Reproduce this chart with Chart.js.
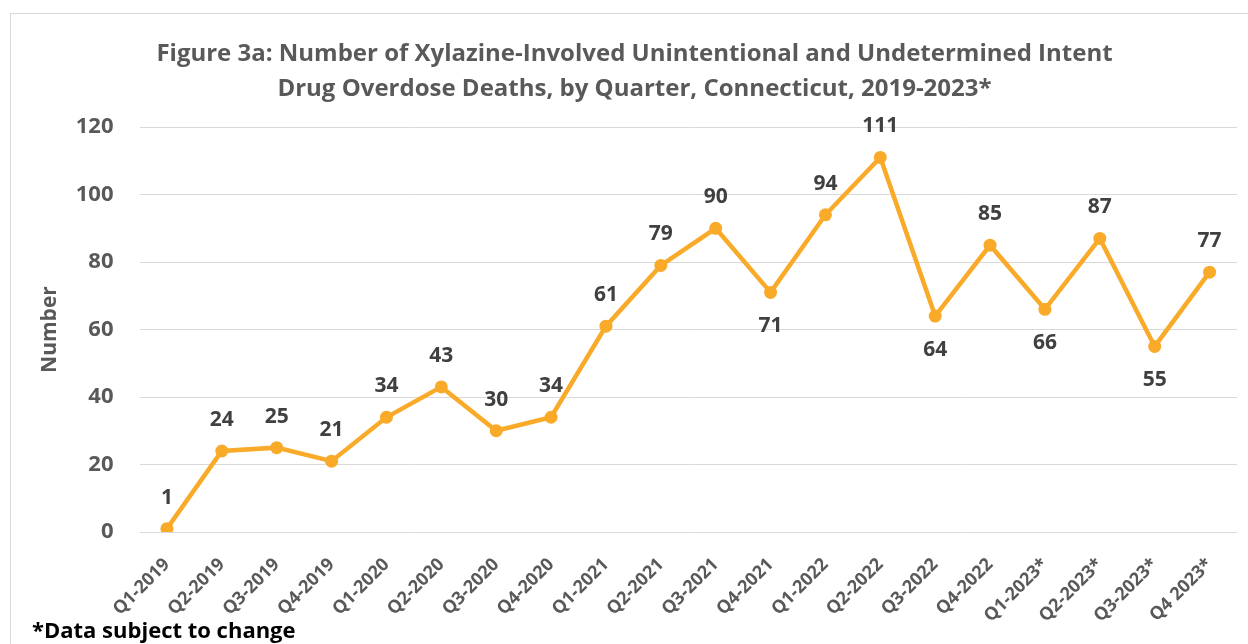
<!DOCTYPE html>
<html>
<head>
<meta charset="utf-8">
<script src="https://cdn.jsdelivr.net/npm/chart.js@4"></script>
<style>
  html, body { margin: 0; padding: 0; background: #fff; overflow: hidden; }
  #frame {
    position: absolute; left: 10px; top: 13px; width: 1400px; height: 800px;
    border: 1px solid #d9d9d9;
  }
  #wrap { position: absolute; left: 0; top: 0; width: 1248px; height: 644px; }
</style>
</head>
<body>
<div id="frame"></div>
<div id="wrap"><canvas id="chart"></canvas></div>
<script>
// quarters on the x axis
const quarters = [
  "Q1-2019", "Q2-2019", "Q3-2019", "Q4-2019",
  "Q1-2020", "Q2-2020", "Q3-2020", "Q4-2020",
  "Q1-2021", "Q2-2021", "Q3-2021", "Q4-2021",
  "Q1-2022", "Q2-2022", "Q3-2022", "Q4-2022",
  "Q1-2023*", "Q2-2023*", "Q3-2023*", "Q4 2023*"
];
// deaths per quarter
const deaths = [1, 24, 25, 21, 34, 43, 30, 34, 61, 79, 90, 71, 94, 111, 64, 85, 66, 87, 55, 77];
// y axis ticks
const yTicks = [0, 20, 40, 60, 80, 100, 120];

const titleLines = [
  "Figure 3a: Number of Xylazine-Involved Unintentional and Undetermined Intent",
  "Drug Overdose Deaths, by Quarter, Connecticut, 2019-2023*"
];

const FONT = "'Open Sans', sans-serif";
const lineColor = "#F9AA29";
const gray = "#595959";

// labels drawn under the point instead of above
const belowIdx = [11, 14, 16, 18];

const pointLabels = {
  id: "pointLabels",
  afterDatasetsDraw(chart) {
    const ctx = chart.ctx;
    const meta = chart.getDatasetMeta(0);
    ctx.save();
    ctx.font = "bold 21px " + FONT;
    ctx.fillStyle = "#404040";
    ctx.textAlign = "center";
    ctx.textBaseline = "middle";
    meta.data.forEach((pt, i) => {
      const dy = belowIdx.includes(i) ? 34 : -31;
      ctx.fillText(String(deaths[i]), pt.x, pt.y + dy);
    });
    ctx.restore();
  }
};

new Chart(document.getElementById("chart"), {
  type: "line",
  data: {
    labels: quarters,
    datasets: [{
      label: "Deaths",
      data: deaths,
      borderColor: lineColor,
      backgroundColor: lineColor,
      borderWidth: 4.5,
      pointRadius: 6.5,
      pointBorderWidth: 0,
      pointBackgroundColor: lineColor,
      tension: 0
    }]
  },
  options: {
    responsive: true,
    maintainAspectRatio: false,
    animation: false,
    layout: { padding: { left: 32, right: 11, top: 0, bottom: 0 } },
    plugins: {
      legend: { display: false },
      tooltip: { enabled: false },
      title: {
        display: true,
        text: titleLines,
        color: gray,
        font: { family: FONT, size: 24, weight: "bold", lineHeight: 1.46 },
        padding: { top: 36.5, bottom: 20.5 }
      },
      subtitle: {
        display: true,
        text: "*Data subject to change",
        position: "bottom",
        align: "start",
        color: "#000",
        font: { family: FONT, size: 22, weight: "bold", lineHeight: 1.1 },
        padding: 0
      }
    },
    scales: {
      x: {
        offset: true,
        grid: { display: false, drawTicks: false },
        border: { display: false },
        ticks: {
          color: gray,
          font: { family: FONT, size: 18, weight: "bold" },
          minRotation: 45,
          maxRotation: 45,
          autoSkip: false,
          padding: 22
        },
        afterFit(scale) { scale.height = 644 - 532 - 24.2; }
      },
      y: {
        min: 0,
        max: 120,
        afterBuildTicks(scale) { scale.ticks = yTicks.map(v => ({ value: v })); },
        grid: { color: "#d9d9d9", lineWidth: 1, drawTicks: false },
        border: { display: false },
        ticks: {
          color: gray,
          font: { family: FONT, size: 22, weight: "bold" },
          padding: 26
        },
        title: {
          display: true,
          text: "Number",
          color: gray,
          font: { family: FONT, size: 21, weight: "bold" },
          padding: { top: 5.5, bottom: 0 }
        },
        afterFit(scale) { scale.width = 139.5 - 32; }
      }
    }
  },
  plugins: [pointLabels]
});
</script>
</body>
</html>
